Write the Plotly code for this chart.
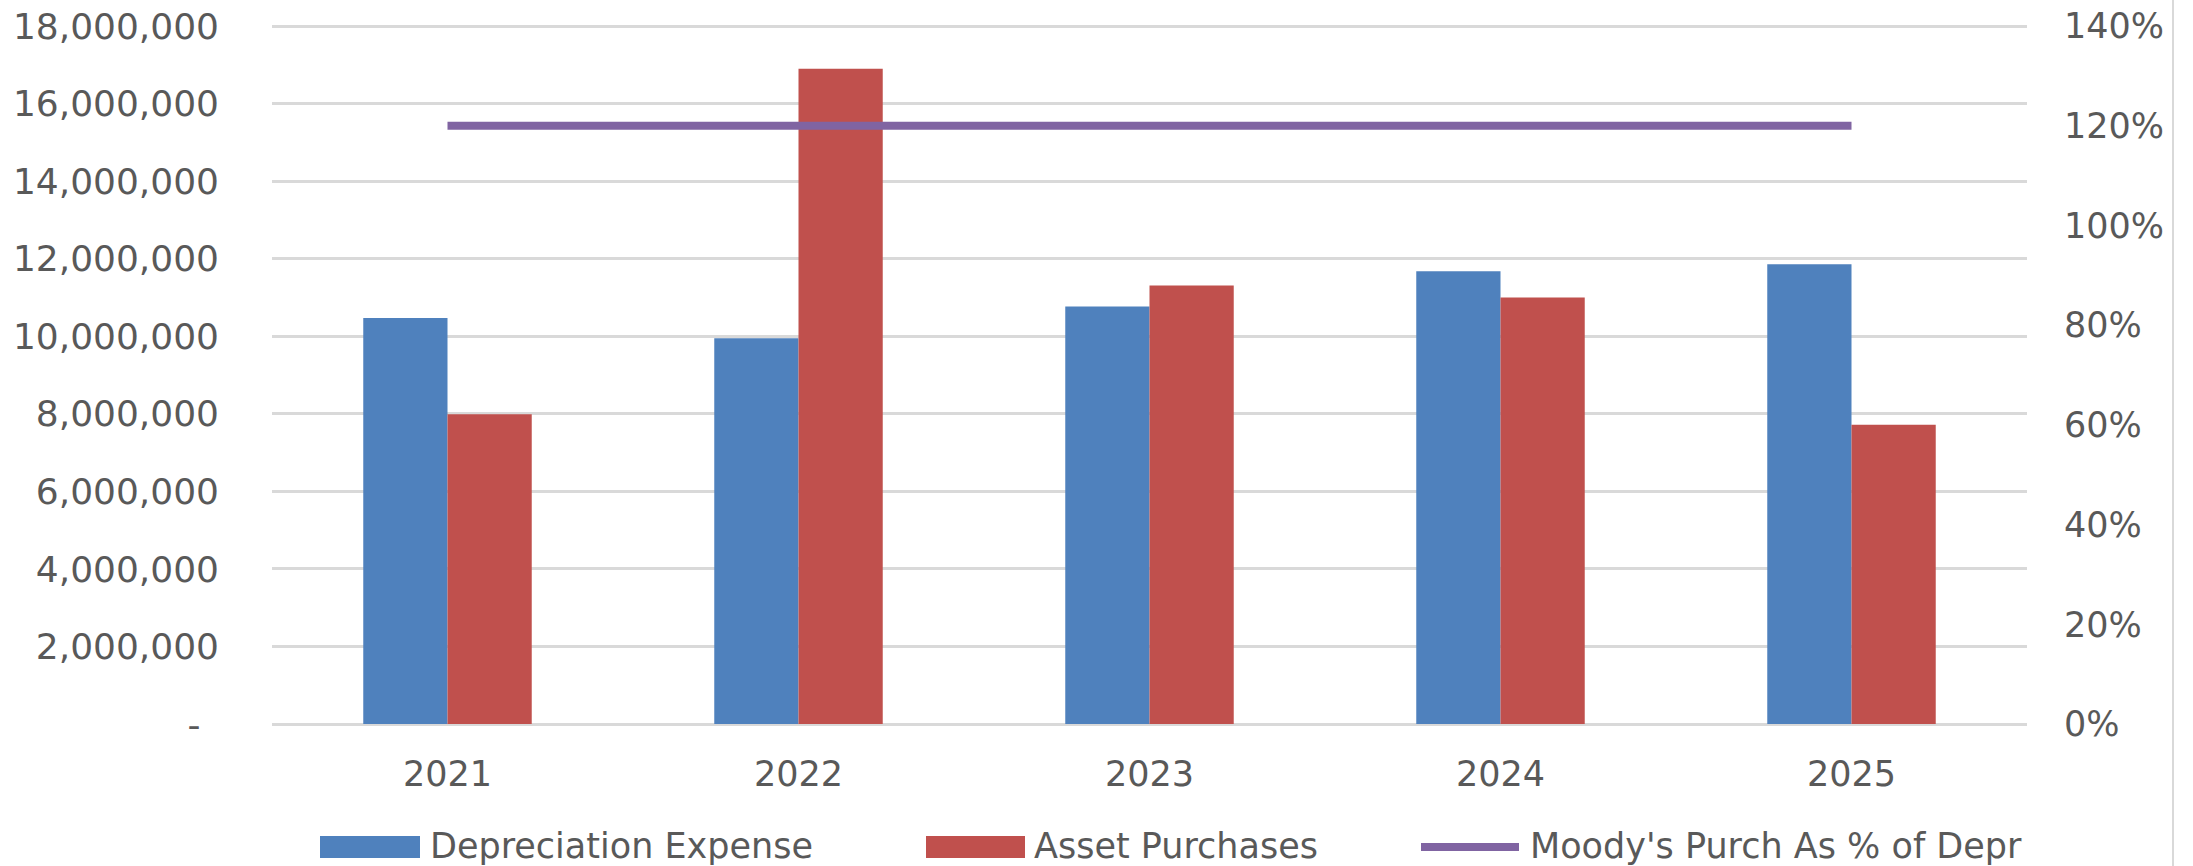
import plotly.graph_objects as go

# data
years = ["2021", "2022", "2023", "2024", "2025"]
depreciation = [10470000, 9950000, 10770000, 11680000, 11860000]
purchases = [7990000, 16900000, 11310000, 11000000, 7720000]
moodys_pct = [1.2, 1.2, 1.2, 1.2, 1.2]

left_ticks = [0, 2000000, 4000000, 6000000, 8000000, 10000000,
              12000000, 14000000, 16000000, 18000000]
left_labels = ["-\u00a0\u2009", "2,000,000", "4,000,000", "6,000,000", "8,000,000",
               "10,000,000", "12,000,000", "14,000,000", "16,000,000", "18,000,000"]

names = ["Depreciation Expense", "Asset Purchases", "Moody's Purch As % of Depr"]
colors = ["#4F81BD", "#C0504D", "#8064A2"]

W, H = 2193, 866
L, R, T, B = 272, 2027, 24, 724   # plot area in pixels
PAD = 1.003                        # a little headroom so the top gridline shows
FONT = "DejaVu Sans"
TXT = "#595959"

fig = go.Figure()
fig.add_trace(go.Bar(x=years, y=depreciation, name=names[0],
                     marker=dict(color=colors[0], line=dict(width=0))))
fig.add_trace(go.Bar(x=years, y=purchases, name=names[1],
                     marker=dict(color=colors[1], line=dict(width=0))))
fig.add_trace(go.Scatter(x=years, y=moodys_pct, name=names[2], yaxis="y2",
                         mode="lines", line=dict(color=colors[2], width=8)))


def px(x):
    return (x - L) / (R - L)


def py(y):
    return (B - y) / (B - T)


# hand-drawn legend (wide swatches like the original)
LY = 846
shapes = [
    dict(type="rect", xref="paper", yref="paper", x0=px(320), x1=px(420),
         y0=py(LY + 12), y1=py(LY - 10), fillcolor=colors[0], line=dict(width=0)),
    dict(type="rect", xref="paper", yref="paper", x0=px(926), x1=px(1025),
         y0=py(LY + 12), y1=py(LY - 10), fillcolor=colors[1], line=dict(width=0)),
    dict(type="line", xref="paper", yref="paper", x0=px(1421), x1=px(1519),
         y0=py(LY + 1), y1=py(LY + 1), line=dict(color=colors[2], width=8)),
    dict(type="line", xref="paper", yref="paper", x0=px(2173), x1=px(2173),
         y0=py(0), y1=py(866), line=dict(color="#d9d9d9", width=2)),
]
annotations = []
for nm, xpos in zip(names, [429, 1033, 1529]):
    annotations.append(dict(text=nm, xref="paper", yref="paper", x=px(xpos), y=py(LY),
                            xanchor="left", yanchor="middle", showarrow=False,
                            borderpad=0,
                            font=dict(family=FONT, size=35, color=TXT)))

fig.update_layout(
    width=W, height=H,
    margin=dict(l=L, r=W - R, t=T, b=H - B, pad=0, autoexpand=False),
    paper_bgcolor="white", plot_bgcolor="white",
    barmode="group", bargap=0.52, bargroupgap=0,
    showlegend=False,
    font=dict(family=FONT, size=35, color=TXT),
    xaxis=dict(showgrid=False, showline=False, ticks="", ticklabelstandoff=26,
               automargin=False,
               tickfont=dict(family=FONT, size=35, color=TXT)),
    yaxis=dict(range=[0, 18000000 * PAD], tickvals=left_ticks, ticktext=left_labels,
               showgrid=True, gridcolor="#d9d9d9", gridwidth=3,
               zeroline=True, zerolinecolor="#d9d9d9", zerolinewidth=3,
               showline=False, ticks="", ticklabelstandoff=52, automargin=False,
               tickfont=dict(family=FONT, size=36, color=TXT)),
    yaxis2=dict(range=[0, 1.4 * PAD], dtick=0.2, tick0=0, tickformat=".0%",
                overlaying="y", side="right", showgrid=False, zeroline=False,
                showline=False, ticks="", ticklabelstandoff=36, automargin=False,
                tickfont=dict(family=FONT, size=35, color=TXT)),
    shapes=shapes, annotations=annotations,
)

fig.write_html("out.html", config={"displayModeBar": False},
               post_script="document.body.style.margin='0';")
